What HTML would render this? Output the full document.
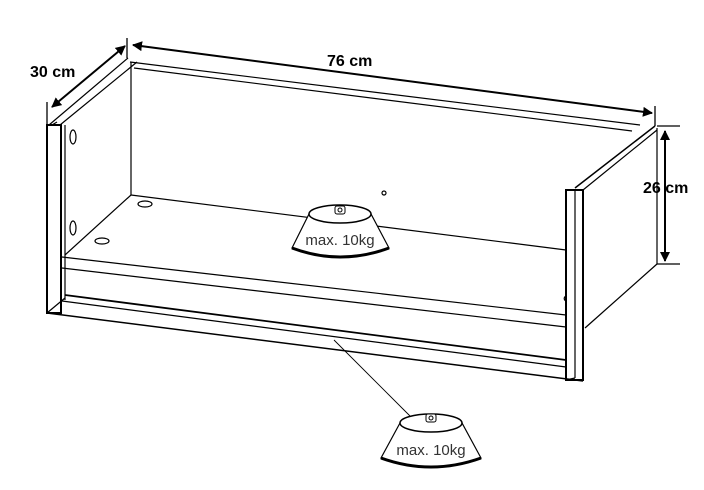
<!DOCTYPE html>
<html><head><style>
html,body{margin:0;padding:0;background:#fff;}
svg{display:block;}
text{font-family:"Liberation Sans",sans-serif;}
</style></head><body>
<svg width="704" height="490" viewBox="0 0 704 490" xmlns="http://www.w3.org/2000/svg">
<defs>
<marker id="a" markerWidth="10" markerHeight="10" refX="9" refY="5" orient="auto-start-reverse" markerUnits="userSpaceOnUse"><path d="M0,0 L10,5 L0,10 z" fill="#000"/></marker>
</defs>
<g fill="none" stroke="#000" stroke-width="1.2">
<line x1="130" y1="62" x2="640" y2="125"/>
<line x1="134" y1="68" x2="632" y2="131"/>
<line x1="131" y1="62" x2="131" y2="195"/>
<line x1="49" y1="125" x2="128" y2="58"/>
<line x1="60" y1="125" x2="137" y2="62"/>
<rect x="47" y="125" width="14" height="188" stroke-width="2"/>
<line x1="65" y1="125" x2="65" y2="300"/>
<line x1="52" y1="125" x2="57" y2="122"/>
<line x1="131" y1="195" x2="566" y2="250"/>
<line x1="131" y1="195" x2="65" y2="255"/>
<line x1="62" y1="257" x2="566" y2="315"/>
<line x1="62" y1="268" x2="566" y2="327"/>
<line x1="65" y1="295" x2="566" y2="360" stroke-width="1.8"/>
<line x1="62" y1="301" x2="566" y2="367"/>
<line x1="47" y1="313" x2="583" y2="381" stroke-width="1.5"/>
<line x1="47" y1="313" x2="65" y2="298"/>
<ellipse cx="73" cy="137" rx="3" ry="7"/>
<ellipse cx="73" cy="228" rx="3" ry="7"/>
<ellipse cx="145" cy="204" rx="7" ry="3"/>
<ellipse cx="102" cy="241" rx="7" ry="3"/>
<circle cx="384" cy="193" r="2"/>
<path d="M566,296 a4,3 0 0 0 0,5"/>
<line x1="575" y1="188" x2="655" y2="126" stroke-width="1.5"/>
<line x1="583" y1="190" x2="657" y2="130"/>
<line x1="657" y1="128" x2="657" y2="264"/>
<line x1="657" y1="264" x2="585" y2="328"/>
<rect x="566" y="190" width="17" height="190" stroke-width="2"/>
<line x1="575" y1="190" x2="575" y2="378"/>
<line x1="566" y1="380" x2="575" y2="378"/>
<line x1="334" y1="340" x2="410" y2="416" stroke-width="0.9"/>
</g>
<g stroke="#000" stroke-width="2" fill="none">
<line x1="52" y1="107" x2="125" y2="46" marker-start="url(#a)" marker-end="url(#a)"/>
<line x1="133" y1="45" x2="652" y2="113" marker-start="url(#a)" marker-end="url(#a)"/>
<line x1="665" y1="131" x2="665" y2="261" marker-start="url(#a)" marker-end="url(#a)"/>
</g>
<g stroke="#000" stroke-width="1.3">
<line x1="47" y1="102" x2="47" y2="128"/>
<line x1="127" y1="38" x2="127" y2="58"/>
<line x1="655" y1="106" x2="655" y2="126"/>
<line x1="657" y1="126" x2="680" y2="126"/>
<line x1="657" y1="264" x2="680" y2="264"/>
</g>
<text x="30" y="77" font-size="16" font-weight="bold">30 cm</text>
<text x="327" y="66" font-size="16" font-weight="bold">76 cm</text>
<text x="643" y="193" font-size="16" font-weight="bold">26 cm</text>
<g stroke="#000" fill="#fff">
<path d="M309,214 L292,248 Q340,266 389,248 L371,214 Z" stroke-width="1.2"/>
<path d="M292,248 Q340,266 389,248" stroke-width="3" fill="none"/>
<ellipse cx="340" cy="214" rx="31" ry="9" stroke-width="1.5"/>
<rect x="335" y="206" width="10" height="8" rx="2" stroke-width="1"/>
<circle cx="340" cy="210" r="2" stroke-width="1"/>
</g>
<text x="340" y="245" font-size="15" text-anchor="middle" fill="#333">max. 10kg</text>
<g stroke="#000" fill="#fff">
<path d="M400,423 L381,458 Q431,476 481,458 L462,423 Z" stroke-width="1.2"/>
<path d="M381,458 Q431,476 481,458" stroke-width="3" fill="none"/>
<ellipse cx="431" cy="423" rx="31" ry="9" stroke-width="1.5"/>
<rect x="426" y="414" width="10" height="8" rx="2" stroke-width="1"/>
<circle cx="431" cy="418" r="2" stroke-width="1"/>
</g>
<text x="431" y="455" font-size="15" text-anchor="middle" fill="#333">max. 10kg</text>
</svg>
</body></html>
